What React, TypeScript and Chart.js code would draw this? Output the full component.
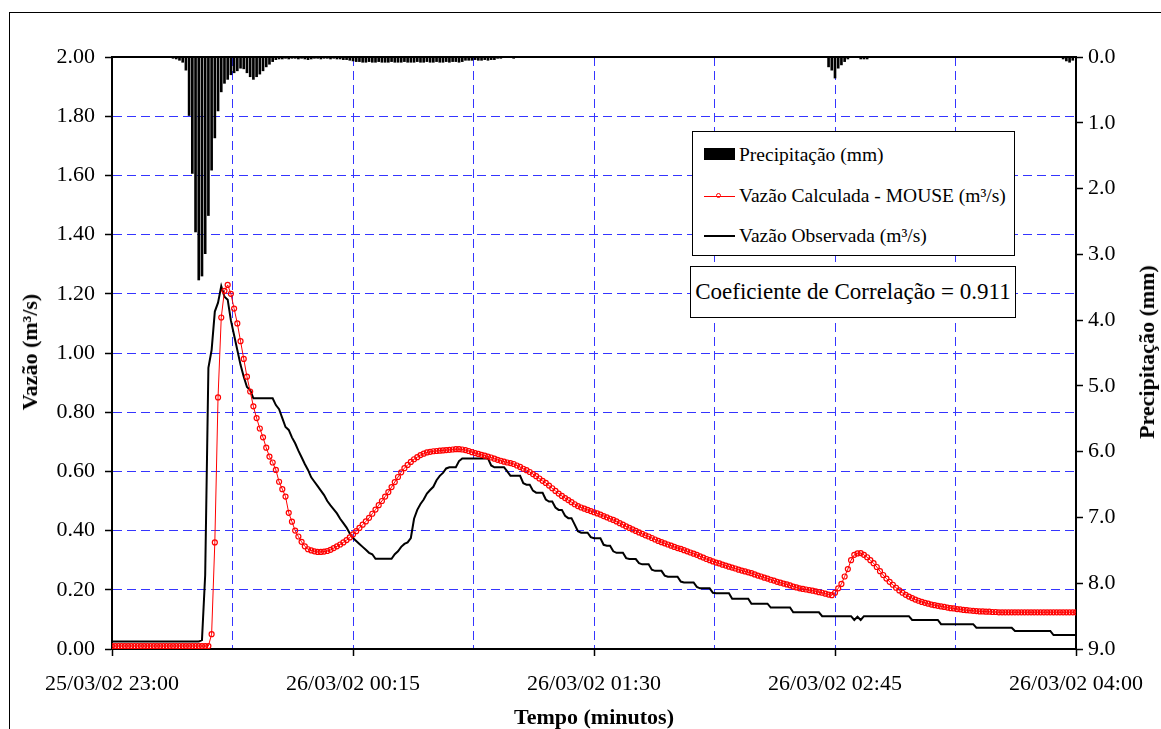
import React, { useEffect, useRef } from 'react';
import { Chart, registerables } from 'chart.js';

Chart.register(...registerables);

const xTickLabels = [
  '25/03/02 23:00',
  '26/03/02 00:15',
  '26/03/02 01:30',
  '26/03/02 02:45',
  '26/03/02 04:00',
];

// Vazão Calculada - MOUSE (m³/s), one value per minute from 23:00 (minute 0..300)
const calcValues = [
  0.01, 0.01, 0.01, 0.01, 0.01, 0.01, 0.01, 0.01, 0.01, 0.01,
  0.01, 0.01, 0.01, 0.01, 0.01, 0.01, 0.01, 0.01, 0.01, 0.01,
  0.01, 0.01, 0.01, 0.01, 0.01, 0.01, 0.01, 0.01, 0.01, 0.01,
  0.01, 0.05, 0.36, 0.85, 1.12, 1.21, 1.23, 1.20, 1.15, 1.10,
  1.04, 0.98, 0.92, 0.87, 0.82, 0.78, 0.745, 0.715, 0.68, 0.65,
  0.63, 0.605, 0.565, 0.54, 0.515, 0.46, 0.43, 0.40, 0.38, 0.362,
  0.347, 0.337, 0.333, 0.330, 0.328, 0.328, 0.329, 0.331, 0.335, 0.341,
  0.347, 0.353, 0.36, 0.368, 0.377, 0.387, 0.398, 0.409, 0.42, 0.431,
  0.443, 0.457, 0.471, 0.486, 0.50, 0.515, 0.53, 0.547, 0.564, 0.581,
  0.597, 0.611, 0.622, 0.632, 0.641, 0.648, 0.655, 0.66, 0.664, 0.666,
  0.668, 0.669, 0.67, 0.671, 0.672, 0.673, 0.674, 0.675, 0.675, 0.674,
  0.672, 0.669, 0.665, 0.662, 0.659, 0.656, 0.653, 0.65, 0.647, 0.643,
  0.639, 0.636, 0.633, 0.63, 0.628, 0.625, 0.62, 0.615, 0.609, 0.604,
  0.598, 0.591, 0.584, 0.576, 0.568, 0.561, 0.552, 0.543, 0.534, 0.525,
  0.517, 0.51, 0.503, 0.496, 0.489, 0.483, 0.478, 0.474, 0.47, 0.466,
  0.462, 0.458, 0.454, 0.449, 0.445, 0.44, 0.436, 0.431, 0.425, 0.42,
  0.414, 0.409, 0.404, 0.399, 0.394, 0.389, 0.384, 0.38, 0.375, 0.37,
  0.365, 0.361, 0.357, 0.353, 0.349, 0.345, 0.341, 0.338, 0.334, 0.33,
  0.326, 0.322, 0.318, 0.313, 0.309, 0.304, 0.30, 0.296, 0.292, 0.289,
  0.285, 0.282, 0.278, 0.275, 0.272, 0.268, 0.265, 0.262, 0.259, 0.256,
  0.252, 0.248, 0.245, 0.241, 0.238, 0.234, 0.231, 0.227, 0.224, 0.221,
  0.218, 0.215, 0.211, 0.208, 0.205, 0.203, 0.201, 0.199, 0.197, 0.195,
  0.192, 0.19, 0.187, 0.184, 0.182, 0.19, 0.205, 0.22, 0.245, 0.27,
  0.30, 0.318, 0.323, 0.324, 0.318, 0.31, 0.30, 0.29, 0.277, 0.263,
  0.25, 0.238, 0.227, 0.217, 0.207, 0.198, 0.19, 0.183, 0.177, 0.172,
  0.167, 0.163, 0.159, 0.156, 0.153, 0.15, 0.148, 0.146, 0.144, 0.142,
  0.14, 0.138, 0.137, 0.135, 0.134, 0.132, 0.131, 0.13, 0.129, 0.128,
  0.127, 0.127, 0.126, 0.126, 0.125, 0.125, 0.124, 0.124, 0.124, 0.124,
  0.124, 0.124, 0.124, 0.124, 0.124, 0.124, 0.124, 0.124, 0.124, 0.124,
  0.124, 0.124, 0.124, 0.124, 0.124, 0.124, 0.124, 0.124, 0.124, 0.124,
  0.124,
];

// Vazão Observada (m³/s), one value per minute from 23:00 (minute 0..300)
const obsValues = [
  0.025, 0.025, 0.025, 0.025, 0.025, 0.025, 0.025, 0.025, 0.025, 0.025,
  0.025, 0.025, 0.025, 0.025, 0.025, 0.025, 0.025, 0.025, 0.025, 0.025,
  0.025, 0.025, 0.025, 0.025, 0.025, 0.025, 0.025, 0.025, 0.03, 0.25,
  0.95, 1.01, 1.14, 1.17, 1.226, 1.19, 1.18, 1.11, 1.06, 1.01,
  0.96, 0.92, 0.885, 0.875, 0.847, 0.847, 0.847, 0.847, 0.847, 0.847,
  0.847, 0.824, 0.81, 0.78, 0.75, 0.74, 0.715, 0.695, 0.67, 0.648,
  0.625, 0.605, 0.58, 0.565, 0.55, 0.535, 0.52, 0.50, 0.485, 0.472,
  0.458, 0.44, 0.425, 0.41, 0.39, 0.375, 0.365, 0.355, 0.345, 0.335,
  0.325, 0.32, 0.305, 0.305, 0.305, 0.305, 0.305, 0.305, 0.32, 0.33,
  0.345, 0.355, 0.36, 0.375, 0.44, 0.47, 0.49, 0.505, 0.525, 0.537,
  0.548, 0.57, 0.585, 0.595, 0.61, 0.614, 0.614, 0.614, 0.635, 0.644,
  0.644, 0.644, 0.644, 0.644, 0.644, 0.644, 0.644, 0.644, 0.62, 0.614,
  0.614, 0.614, 0.614, 0.60, 0.585, 0.585, 0.585, 0.585, 0.56, 0.555,
  0.555, 0.535, 0.528, 0.528, 0.528, 0.505, 0.498, 0.498, 0.478, 0.47,
  0.47, 0.45, 0.442, 0.442, 0.42, 0.398, 0.393, 0.393, 0.393, 0.378,
  0.374, 0.374, 0.374, 0.352, 0.349, 0.349, 0.33, 0.325, 0.325, 0.325,
  0.307, 0.304, 0.304, 0.304, 0.29, 0.286, 0.286, 0.286, 0.268, 0.264,
  0.264, 0.264, 0.248, 0.244, 0.244, 0.244, 0.244, 0.228, 0.225, 0.225,
  0.225, 0.225, 0.21, 0.205, 0.205, 0.205, 0.205, 0.19, 0.188, 0.188,
  0.188, 0.188, 0.188, 0.17, 0.17, 0.17, 0.17, 0.17, 0.17, 0.153,
  0.153, 0.153, 0.153, 0.153, 0.153, 0.14, 0.14, 0.14, 0.14, 0.14,
  0.14, 0.14, 0.124, 0.124, 0.124, 0.124, 0.124, 0.124, 0.124, 0.124,
  0.124, 0.111, 0.111, 0.111, 0.111, 0.111, 0.111, 0.111, 0.111, 0.111,
  0.111, 0.098, 0.109, 0.098, 0.111, 0.111, 0.111, 0.111, 0.111, 0.111,
  0.111, 0.111, 0.111, 0.111, 0.111, 0.111, 0.111, 0.111, 0.111, 0.098,
  0.098, 0.098, 0.098, 0.098, 0.098, 0.098, 0.098, 0.098, 0.084, 0.084,
  0.084, 0.084, 0.084, 0.084, 0.084, 0.084, 0.084, 0.084, 0.084, 0.072,
  0.072, 0.072, 0.072, 0.072, 0.072, 0.072, 0.072, 0.072, 0.072, 0.072,
  0.072, 0.061, 0.061, 0.061, 0.061, 0.061, 0.061, 0.061, 0.061, 0.061,
  0.061, 0.061, 0.061, 0.047, 0.047, 0.047, 0.047, 0.047, 0.047, 0.047,
  0.047,
];

// Precipitação (mm): minute after 23:00 and depth
const precipMinutes = [
  19, 20, 21, 22, 23, 24, 25, 26, 27, 28, 29, 30, 31, 32, 33, 34, 35, 36, 37, 38,
  39, 40, 41, 42, 43, 44, 45, 46, 47, 48, 49, 50, 51, 52, 53, 54, 55, 56, 57, 58,
  59, 60, 61, 62, 63, 64, 65, 66, 67, 68, 69, 70, 71, 72, 73, 74, 75, 76, 77, 78,
  79, 80, 81, 82, 83, 84, 85, 86, 87, 88, 89, 90, 91, 92, 93, 94, 95, 96, 97, 98,
  99, 100, 101, 102, 103, 104, 105, 106, 107, 108, 109, 110, 111, 112, 113, 114, 115, 116, 117, 118,
  119, 120, 121, 122, 125,
  223, 224, 225, 226, 227, 228, 229, 233, 234, 235,
  296, 297, 298, 299,
];
const precipValues = [
  0.02, 0.03, 0.05, 0.08, 0.2, 0.89, 1.77, 2.66, 3.39, 3.33, 2.99, 2.41, 1.72, 1.23, 0.82, 0.53, 0.40, 0.34, 0.27, 0.24,
  0.21, 0.17, 0.18, 0.24, 0.30, 0.34, 0.30, 0.26, 0.21, 0.15, 0.11, 0.07, 0.04, 0.03, 0.03, 0.02, 0.03, 0.02, 0.02, 0.03,
  0.02, 0.03, 0.04, 0.03, 0.02, 0.02, 0.03, 0.02, 0.02, 0.03, 0.02, 0.03, 0.03, 0.04, 0.04, 0.05, 0.06, 0.07, 0.07, 0.08,
  0.08, 0.07, 0.08, 0.08, 0.07, 0.08, 0.08, 0.08, 0.07, 0.08, 0.08, 0.08, 0.07, 0.08, 0.08, 0.08, 0.07, 0.08, 0.08, 0.07,
  0.08, 0.08, 0.07, 0.08, 0.08, 0.07, 0.08, 0.07, 0.07, 0.08, 0.07, 0.05, 0.05, 0.05, 0.04, 0.05, 0.05, 0.04, 0.05, 0.04,
  0.04, 0.02, 0.02, 0.01, 0.02,
  0.15, 0.2, 0.32, 0.17, 0.12, 0.07, 0.03, 0.03, 0.03, 0.03,
  0.03, 0.06, 0.08, 0.05,
];

const FONT = "'Liberation Serif', 'Times New Roman', Times, serif";
const GRID_BLUE = '#3535ff';
const CLEAR = 'rgba(0,0,0,0)';

const topBorder = {
  id: 'topBorder',
  afterDatasetsDraw(chart: any) {
    const { ctx, chartArea } = chart;
    ctx.save();
    ctx.strokeStyle = '#000';
    ctx.lineWidth = 2;
    ctx.beginPath();
    ctx.moveTo(chartArea.left - 1, chartArea.top);
    ctx.lineTo(chartArea.right + 1, chartArea.top);
    ctx.stroke();
    ctx.restore();
  },
};

export default function App() {
  const canvasRef = useRef<HTMLCanvasElement | null>(null);

  useEffect(() => {
    const canvas = canvasRef.current;
    if (!canvas) return;
    const tickFont = { family: FONT, size: 22 };
    const chart = new Chart(canvas, {
      type: 'line',
      data: {
        datasets: [
          {
            type: 'line',
            label: 'Vazão Calculada - MOUSE (m³/s)',
            data: calcValues.map((v, i) => ({ x: i, y: v })),
            borderColor: '#ff0000',
            borderWidth: 1,
            pointRadius: 2.5,
            pointBorderWidth: 1.2,
            pointBorderColor: '#ff0000',
            pointBackgroundColor: CLEAR,
            tension: 0,
            yAxisID: 'y',
            order: 1,
          },
          {
            type: 'line',
            label: 'Vazão Observada (m³/s)',
            data: obsValues.map((v, i) => ({ x: i, y: v })),
            borderColor: '#000000',
            borderWidth: 2,
            pointRadius: 0,
            tension: 0,
            yAxisID: 'y',
            order: 2,
          },
          {
            type: 'bar',
            label: 'Precipitação (mm)',
            data: precipMinutes.map((m, i) => ({ x: m, y: precipValues[i] })),
            backgroundColor: '#000000',
            barThickness: 2,
            yAxisID: 'y2',
            order: 3,
          },
        ],
      } as any,
      options: {
        animation: false,
        responsive: false,
        maintainAspectRatio: false,
        layout: { padding: { top: 57, left: 0, right: 0, bottom: 0 } },
        plugins: { legend: { display: false }, tooltip: { enabled: false } },
        scales: {
          x: {
            type: 'linear',
            position: 'bottom',
            min: 0,
            max: 300,
            offset: false,
            ticks: {
              stepSize: 37.5,
              autoSkip: false,
              maxRotation: 0,
              minRotation: 0,
              padding: 15,
              color: '#000',
              font: tickFont,
              callback: (v: any) => {
                const i = Number(v) / 75;
                return Number.isInteger(i) ? xTickLabels[i] : '';
              },
            },
            grid: {
              offset: false,
              lineWidth: 1,
              color: (c: any) => {
                const v = c.tick ? c.tick.value : 0;
                return v <= 0 || v >= 300 ? CLEAR : GRID_BLUE;
              },
              tickLength: 7,
              tickWidth: 1.5,
              tickColor: (c: any) => {
                const v = c.tick ? c.tick.value : 1;
                return Number.isInteger(v / 75) ? '#000' : CLEAR;
              },
              tickBorderDash: [],
            },
            border: { display: true, color: '#000', width: 2, dash: [9, 5] },
            afterFit: (s: any) => {
              s.height = 80;
            },
          },
          y: {
            type: 'linear',
            position: 'left',
            min: 0,
            max: 2,
            ticks: {
              stepSize: 0.2,
              padding: 10,
              color: '#000',
              font: tickFont,
              callback: (v: any) => Number(v).toFixed(2),
            },
            grid: {
              lineWidth: 1,
              color: (c: any) => {
                const v = c.tick ? c.tick.value : 0;
                return v < 0.01 || v > 1.99 ? CLEAR : GRID_BLUE;
              },
              tickLength: 7,
              tickWidth: 1.5,
              tickColor: '#000',
              tickBorderDash: [],
            },
            border: { display: true, color: '#000', width: 2, dash: [9, 5] },
            afterFit: (s: any) => {
              s.width = 112;
            },
          },
          y2: {
            type: 'linear',
            position: 'right',
            min: 0,
            max: 9,
            reverse: true,
            ticks: {
              stepSize: 1,
              padding: 5,
              color: '#000',
              font: tickFont,
              callback: (v: any) => Number(v).toFixed(1),
            },
            grid: {
              drawOnChartArea: false,
              tickLength: 7,
              tickWidth: 1.5,
              tickColor: '#000',
              tickBorderDash: [],
            },
            border: { display: true, color: '#000', width: 2 },
            afterFit: (s: any) => {
              s.width = 85;
            },
          },
        },
      } as any,
      plugins: [topBorder],
    });
    return () => {
      chart.destroy();
    };
  }, []);

  const serif: React.CSSProperties = { fontFamily: FONT, color: '#000', whiteSpace: 'nowrap' };
  const legendText: React.CSSProperties = {
    ...serif,
    position: 'absolute',
    left: 46,
    fontSize: 19.5,
    lineHeight: '20px',
    transform: 'translateY(-50%)',
  };

  return (
    <div style={{ position: 'absolute', left: 0, top: 0, width: 1161, height: 729, overflow: 'hidden', background: '#fff' }}>
      <div
        style={{
          position: 'absolute',
          left: 9,
          top: 12,
          width: 1400,
          height: 1000,
          border: '1px solid #000',
        }}
      />
      <canvas ref={canvasRef} width={1161} height={729} style={{ position: 'absolute', left: 0, top: 0, width: 1161, height: 729 }} />

      <div
        style={{
          ...serif,
          position: 'absolute',
          left: 30,
          top: 352,
          fontSize: 22,
          fontWeight: 'bold',
          transform: 'translate(-50%, -50%) rotate(-90deg)',
        }}
      >
        Vazão (m³/s)
      </div>
      <div
        style={{
          ...serif,
          position: 'absolute',
          left: 1147,
          top: 352,
          fontSize: 22,
          fontWeight: 'bold',
          transform: 'translate(-50%, -50%) rotate(-90deg)',
        }}
      >
        Precipitação (mm)
      </div>
      <div
        style={{
          ...serif,
          position: 'absolute',
          left: 594,
          top: 717,
          fontSize: 22,
          fontWeight: 'bold',
          transform: 'translate(-50%, -50%)',
        }}
      >
        Tempo (minutos)
      </div>

      <div
        style={{
          position: 'absolute',
          left: 692,
          top: 131,
          width: 323,
          height: 125,
          boxSizing: 'border-box',
          border: '1px solid #000',
          background: '#fff',
        }}
      >
        <div style={{ position: 'absolute', left: 11, top: 16, width: 31, height: 12, background: '#000' }} />
        <div style={{ ...legendText, top: 23 }}>Precipitação (mm)</div>

        <div style={{ position: 'absolute', left: 11, top: 64, width: 31, height: 1, background: '#ff0000' }} />
        <div
          style={{
            position: 'absolute',
            left: 23,
            top: 61,
            width: 5,
            height: 5,
            boxSizing: 'border-box',
            border: '1px solid #ff0000',
            borderRadius: '50%',
          }}
        />
        <div style={{ ...legendText, top: 64 }}>Vazão Calculada - MOUSE (m³/s)</div>

        <div style={{ position: 'absolute', left: 11, top: 103, width: 31, height: 2, background: '#000' }} />
        <div style={{ ...legendText, top: 104 }}>Vazão Observada (m³/s)</div>
      </div>

      <div
        style={{
          ...serif,
          position: 'absolute',
          left: 690,
          top: 266,
          width: 326,
          height: 52,
          boxSizing: 'border-box',
          border: '1px solid #000',
          background: '#fff',
          fontSize: 23,
          display: 'flex',
          alignItems: 'center',
          justifyContent: 'center',
        }}
      >
        Coeficiente de Correlação = 0.911
      </div>
    </div>
  );
}
